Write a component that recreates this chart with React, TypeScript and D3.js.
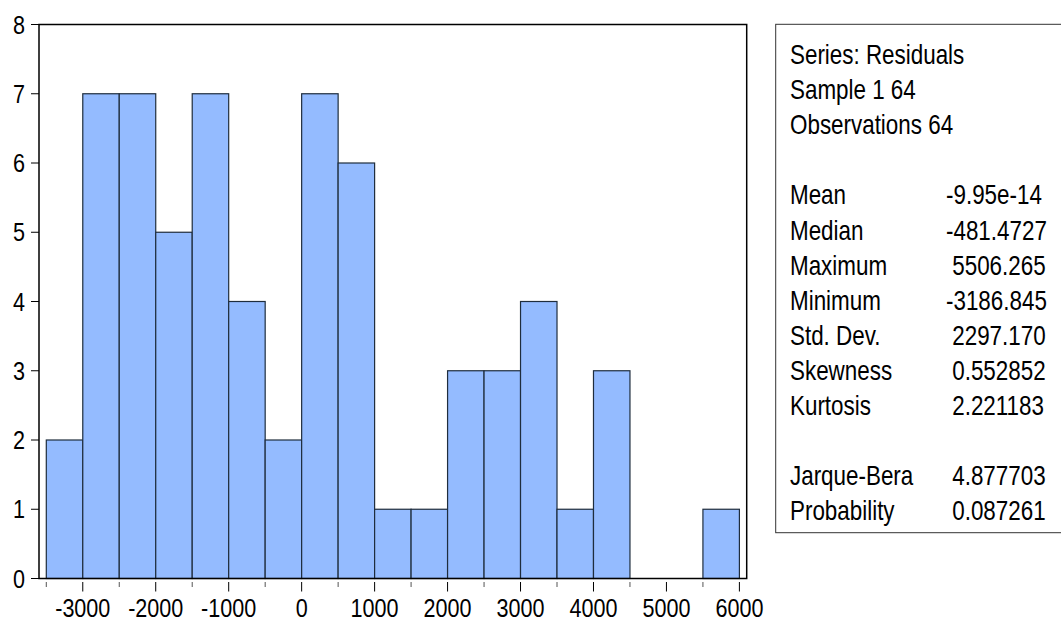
import React from 'react';
import * as d3 from 'd3';

// histogram of residuals, bins of width 500
const binStart = [-3500, -3000, -2500, -2000, -1500, -1000, -500, 0, 500, 1000, 1500, 2000, 2500, 3000, 3500, 4000, 4500, 5000, 5500];
const binEnd = [-3000, -2500, -2000, -1500, -1000, -500, 0, 500, 1000, 1500, 2000, 2500, 3000, 3500, 4000, 4500, 5000, 5500, 6000];
const counts = [2, 7, 7, 5, 7, 4, 2, 7, 6, 1, 1, 3, 3, 4, 1, 3, 0, 0, 1];

const xMajorTicks = [-3000, -2000, -1000, 0, 1000, 2000, 3000, 4000, 5000, 6000];
const xMinorTicks = [-3500, -2500, -1500, -500, 500, 1500, 2500, 3500, 4500, 5500];
const yTicks = [0, 1, 2, 3, 4, 5, 6, 7, 8];

// stats panel, null = blank line
const statLabels = ['Series: Residuals', 'Sample 1 64', 'Observations 64', null,
  'Mean', 'Median', 'Maximum', 'Minimum', 'Std. Dev.', 'Skewness', 'Kurtosis', null,
  'Jarque-Bera', 'Probability'];
const statValues = [null, null, null, null,
  '-9.95e-14', '-481.4727', ' 5506.265', '-3186.845', ' 2297.170', ' 0.552852', ' 2.221183', null,
  ' 4.877703', ' 0.087261'];

const W = 1061;
const H = 622;
const FONT = '"Liberation Sans", Arial, sans-serif';
const SX = 0.83; // horizontal squeeze, the source font is a narrow face

function Label({ x, y, anchor = 'start', size = 27, children }: any) {
  return (
    <g transform={`translate(${x},${y}) scale(${SX},1)`}>
      <text textAnchor={anchor} fontSize={size} fontFamily={FONT} fill="#000" style={{ whiteSpace: 'pre' }}>
        {children}
      </text>
    </g>
  );
}

export default function App() {
  const plot = { left: 39, right: 746.7, top: 24.5, bottom: 578.5 };

  const x = d3.scaleLinear().domain([-3600, 6100]).range([plot.left, plot.right]);
  const y = d3.scaleLinear().domain([0, 8]).range([plot.bottom, plot.top]);

  const tickTop = plot.bottom + 3.5;

  const lineStep = 35.1;
  const firstBase = 64;

  return (
    <div style={{ position: 'fixed', left: 0, top: 0, width: W, height: H, background: '#fff' }}>
      <svg width={W} height={H}>
        {/* bars */}
        {counts.map((c, i) => c > 0 && (
          <rect key={i}
            x={x(binStart[i])} y={y(c)}
            width={x(binEnd[i]) - x(binStart[i])} height={y(0) - y(c)}
            fill="#94bbff" stroke="#1f2d3d" strokeWidth={1.2} />
        ))}

        {/* frame */}
        <rect x={plot.left} y={plot.top} width={plot.right - plot.left} height={plot.bottom - plot.top}
          fill="none" stroke="#000" strokeWidth={1.5} />

        {/* y axis */}
        {yTicks.map(t => (
          <g key={t}>
            <line x1={plot.left - 8} x2={plot.left} y1={y(t)} y2={y(t)} stroke="#000" strokeWidth={1} />
            <Label x={25} y={y(t) + 9} anchor="end" size={26}>{t}</Label>
          </g>
        ))}

        {/* x axis */}
        {xMinorTicks.map(t => (
          <line key={'m' + t} x1={x(t)} x2={x(t)} y1={tickTop} y2={tickTop + 5} stroke="#555" strokeWidth={1} />
        ))}
        {xMajorTicks.map(t => (
          <g key={t}>
            <line x1={x(t)} x2={x(t)} y1={tickTop} y2={tickTop + 9.5} stroke="#000" strokeWidth={1} />
            <Label x={x(t)} y={617} anchor="middle" size={26}>{t}</Label>
          </g>
        ))}

        {/* stats box */}
        <rect x={775.7} y={24.3} width={W} height={532.7 - 24.3} fill="none" stroke="#333" strokeWidth={1} />
        {statLabels.map((s, i) => s && (
          <Label key={'l' + i} x={790} y={firstBase + i * lineStep}>{s}</Label>
        ))}
        {statValues.map((s, i) => s && (
          <Label key={'v' + i} x={946} y={firstBase + i * lineStep}>{s}</Label>
        ))}
      </svg>
    </div>
  );
}
